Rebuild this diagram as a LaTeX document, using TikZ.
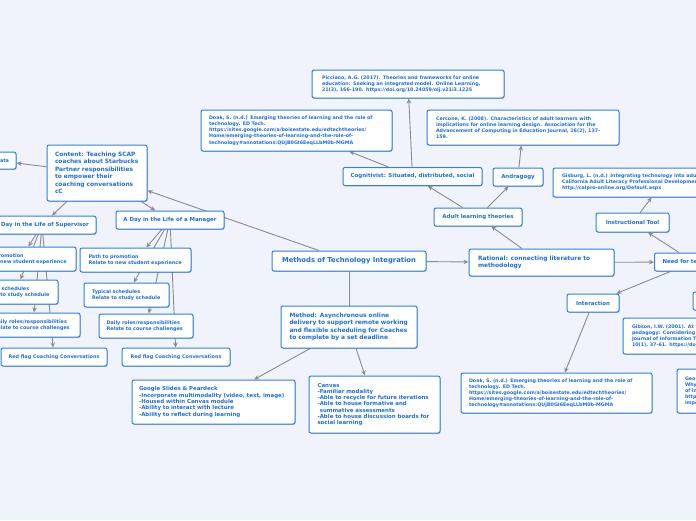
\documentclass[tikz,border=0pt]{standalone}
\usepackage{fontspec}
\setmainfont{DejaVu Sans}
\usetikzlibrary{backgrounds,shadows,arrows.meta}
\definecolor{bg}{HTML}{F0F3FC}
\definecolor{bd}{HTML}{2F80E0}
\definecolor{tx}{HTML}{1F6ED6}
\definecolor{ln}{HTML}{8A8A8A}
\tikzset{
 box/.style={draw=bd, fill=white, rounded corners=2pt, line width=1pt, text=tx, inner ysep=0pt, inner xsep=8pt, align=left,
   drop shadow={shadow xshift=0.6pt, shadow yshift=-0.8pt, opacity=0.25, fill=black}},
 cbox/.style={box, align=center, inner xsep=2pt},
 fs/.style={font=\fontsize{4.8}{6.1}\selectfont\bfseries},
 fn/.style={font=\fontsize{4.9}{6.0}\selectfont\bfseries},
 ft/.style={font=\fontsize{5.45}{6.3}\selectfont\bfseries},
 fl/.style={font=\fontsize{5.9}{7.5}\selectfont\bfseries},
 fx/.style={font=\fontsize{6.8}{7.5}\selectfont\bfseries},
 link/.style={draw=ln, line width=0.9pt, -{Stealth[length=5pt,width=4.5pt]}},
 plain/.style={draw=ln, line width=0.9pt},
}
\begin{document}
\begin{tikzpicture}[x=1pt,y=-1pt]
\useasboundingbox (0,0) rectangle (696,520);
% centre
\node[cbox,fx,minimum width=154pt,minimum height=20pt] (methods) at (349,261) {Methods of Technology Integration};
\node[box,fl,inner xsep=9pt,text width=127pt,minimum height=27pt] (rational) at (541.5,262.5) {Rational: connecting literature to\\methodology};
\node[box,fl,inner xsep=8.5pt,text width=119pt,minimum height=42pt] (method) at (349,327) {Method: Asynchronous online\\delivery to support remote working\\and flexible scheduling for Coaches\\to complete by a set deadline};
\node[box,fl,text width=84pt,minimum height=56pt] (content) at (97,173) {Content: Teaching SCAP\\coaches about Starbucks\\Partner responsibilities\\to empower their\\coaching conversations\\cC};
\node[box,fn,align=right,inner xsep=7pt,text width=26pt,minimum height=17pt] (ata) at (-4,160.5) {ata};
% supervisor / manager
\node[cbox,ft,minimum width=108pt,minimum height=18pt] (sup) at (42,225) {A Day in the Life of Supervisor};
\node[cbox,ft,minimum width=108pt,minimum height=18pt] (manager) at (170,220) {A Day in the Life of a Manager};
\node[box,fn,inner xsep=8.5pt,text width=94pt,minimum height=24pt] (mpath) at (135.5,260) {Path to promotion\\Relate to new student experience};
\node[box,fn,text width=69pt,minimum height=24pt] (mtyp) at (126.5,295) {Typical schedules\\Relate to study schedule};
\node[box,fn,inner xsep=7.5pt,text width=79pt,minimum height=24pt] (mdaily) at (146,326) {Daily roles/responsibilities\\Relate to course challenges};
\node[cbox,fn,minimum width=108pt,minimum height=18pt] (mred) at (176,357) {Red flag Coaching Conversations};
\node[box,fn,inner xsep=8.5pt,text width=94pt,minimum height=24pt] (spath) at (20.5,259) {Path to promotion\\Relate to new student experience};
\node[box,fn,text width=69pt,minimum height=24pt] (styp) at (15.5,292) {Typical schedules\\Relate to study schedule};
\node[box,fn,inner xsep=7.5pt,text width=79pt,minimum height=24pt] (sdaily) at (33,325) {Daily roles/responsibilities\\Relate to course challenges};
\node[cbox,fn,minimum width=106pt,minimum height=18pt] (sred) at (54,357) {Red flag Coaching Conversations};
% top
\node[box,fs,inner xsep=10pt,text width=172pt,minimum height=28pt] (picciano) at (408,84) {Picciano, A.G. (2017). Theories and frameworks for online\\education: Seeking an integrated model. Online Learning,\\21(3), 166-190. https://doi.org/10.24059/olj.v21i3.1225};
\node[box,fs,text width=175pt,minimum height=41pt] (doak1) at (296.5,130.5) {Doak, S. (n.d.) Emerging theories of learning and the role of\\technology. ED Tech.\\https://sites.google.com/a/boisestate.edu/edtechtheories/\\Home/emerging-theories-of-learning-and-the-role-of-\\technology\#annotations:QUjB0GI6EeqLLbM0b-MGMA};
\node[box,fs,inner xsep=9pt,text width=174pt,minimum height=35pt] (cercone) at (523,127.5) {Cercone, K. (2008). Characteristics of adult learners with\\implications for online learning design. Association for the\\Advancement of Computing in Education Journal, 16(2), 137-\\159.};
\node[cbox,ft,minimum width=139pt,minimum height=18pt] (cog) at (412.5,176.5) {Cognitivist: Situated, distributed, social};
\node[cbox,ft,minimum width=50pt,minimum height=18pt] (andragogy) at (518,177) {Andragogy};
\node[cbox,ft,minimum width=88pt,minimum height=18pt] (adult) at (478,217) {Adult learning theories};
% right
\node[box,fs,inner xsep=9pt,text width=202pt,minimum height=29pt] (gisburg) at (663,182.5) {Gisburg, L. (n.d.) Integrating technology into adult education.\\California Adult Literacy Professional Development Project.\\http://calpro-online.org/Default.aspx};
\node[cbox,ft,minimum width=73pt,minimum height=19pt] (instr) at (632.5,222.5) {Instructional Tool};
\node[box,ft,anchor=west,minimum height=18pt] (need) at (654,262) {Need for technology};
\node[cbox,ft,minimum width=52pt,minimum height=18pt] (interaction) at (593,303) {Interaction};
\node[box,fn,text width=24pt,minimum height=18pt] (small) at (713,301) {};
\node[box,fs,inner xsep=9pt,text width=202pt,minimum height=36pt] (gibson) at (733,336) {Gibson, I.W. (2001). At the intersection of technology and\\pedagogy: Considering styles of learning and teaching.\\Journal of Information Technology for Teacher Education,\\10(1), 37-61. https://doi.org/10.1080/14759390100200102};
\node[box,fs,text width=104pt,minimum height=44pt] (geo) at (737,391) {George\\Why\\of integrating\\https://\\importance};
\node[box,fs,text width=175pt,minimum height=40pt] (doak2) at (556.5,393) {Doak, S. (n.d.) Emerging theories of learning and the role of\\technology. ED Tech.\\https://sites.google.com/a/boisestate.edu/edtechtheories/\\Home/emerging-theories-of-learning-and-the-role-of-\\technology\#annotations:QUjB0GI6EeqLLbM0b-MGMA};
% bottom
\node[box,ft,inner xsep=7pt,text width=149pt,minimum height=44pt] (google) at (213.5,402) {Google Slides \& Peardeck\\-Incorporate multimodality (video, text, image)\\-Housed within Canvas module\\-Ability to interact with lecture\\-Ability to reflect during learning};
\node[box,ft,inner xsep=8.5pt,text width=114pt,minimum height=57pt] (canvas) at (374.5,404.5) {Canvas\\-Familiar modality\\-Able to recycle for future iterations\\-Able to house formative and\\\hphantom{-}summative assessments\\-Able to house discussion boards for\\social learning};
\begin{scope}[on background layer]
\fill[bg] (0,0) rectangle (696,520);
\draw[link] (methods) -- (rational);
\draw[link] (methods) -- (content);
\draw[plain] (methods) -- (method);
\draw[link] (rational) -- (adult);
\draw[link] (rational) -- (need);
\draw[link] (adult) -- (cog);
\draw[link] (adult) -- (andragogy);
\draw[link] (andragogy) -- (cercone);
\draw[link] (cog) -- (picciano);
\draw[link] (cog) -- (doak1);
\draw[link] (need) -- (instr);
\draw[link] (instr) -- (gisburg);
\draw[link] (need) -- (interaction);
\draw[link] (interaction) -- (doak2);
\draw[link] (method) -- (google);
\draw[link] (method) -- (canvas);
\draw[link] (content) -- (ata);
\draw[link] (content) -- (manager);
\draw[link] (content) -- (sup);
\foreach \c in {mpath,mtyp,mdaily,mred} \draw[link] (manager) -- (\c);
\foreach \c in {spath,styp,sdaily,sred} \draw[link] (sup) -- (\c);
\end{scope}
\end{tikzpicture}
\end{document}
